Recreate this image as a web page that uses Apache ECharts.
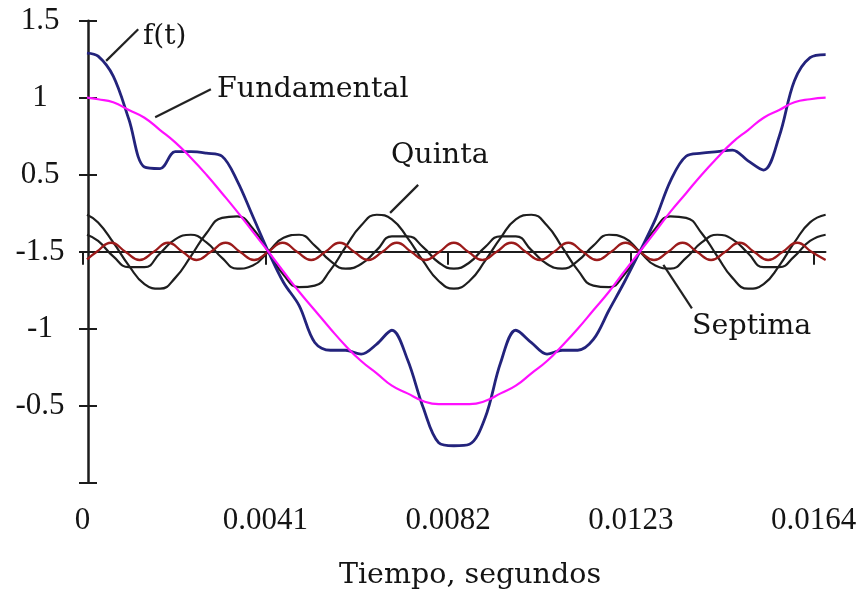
<!DOCTYPE html>
<html>
<head>
<meta charset="utf-8">
<script src="https://cdn.jsdelivr.net/npm/echarts/dist/echarts.min.js"></script>
<style>
  html, body { margin: 0; padding: 0; background: #ffffff; }
  #grafica { width: 863px; height: 596px; }
</style>
</head>
<body>
<div id="grafica"></div>
<script>
// Tiempo (s) de las muestras de la onda y de sus armónicos fundamental, quinto y séptimo
const tiempo = [
  0.0001, 0.00035, 0.00069, 0.00104, 0.00139, 0.00174, 0.00208, 0.00243, 0.00278, 0.00313,
  0.00347, 0.00382, 0.00417, 0.00451, 0.00486, 0.00521, 0.00556, 0.00590, 0.00625, 0.00660,
  0.00694, 0.00729, 0.00764, 0.00799, 0.00833, 0.00868, 0.00903, 0.00938, 0.00972, 0.01007,
  0.01042, 0.01076, 0.01111, 0.01146, 0.01181, 0.01215, 0.01250, 0.01285, 0.01319, 0.01354,
  0.01389, 0.01424, 0.01458, 0.01493, 0.01528, 0.01563, 0.01597, 0.01632, 0.01667
];

// Onda completa f(t)
const ondaFt = [
  1.29, 1.27, 1.14, 0.86, 0.55, 0.54, 0.65, 0.65, 0.64, 0.62,
  0.46, 0.23, 0.00, -0.20, -0.35, -0.59, -0.64, -0.64, -0.665, -0.60,
  -0.51, -0.70, -1.01, -1.24, -1.26, -1.25, -1.08, -0.72, -0.51, -0.59,
  -0.665, -0.64, -0.64, -0.57, -0.38, -0.20, 0.00, 0.21, 0.46, 0.62,
  0.64, 0.65, 0.66, 0.59, 0.53, 0.75, 1.11, 1.26, 1.28
];

// Componente fundamental
const fundamental = [
  1.00, 0.99, 0.97, 0.92, 0.87, 0.79, 0.71, 0.61, 0.50, 0.38,
  0.26, 0.13, 0.00, -0.13, -0.26, -0.38, -0.50, -0.61, -0.71, -0.79,
  -0.87, -0.92, -0.97, -0.99, -0.99, -0.99, -0.97, -0.92, -0.87, -0.79,
  -0.71, -0.61, -0.50, -0.38, -0.26, -0.13, 0.00, 0.13, 0.26, 0.38,
  0.50, 0.61, 0.71, 0.79, 0.87, 0.92, 0.97, 0.99, 1.00
];

// Quinto armónico
const quinta = [
  0.24, 0.19, 0.06, -0.09, -0.21, -0.24, -0.17, -0.03, 0.12, 0.22,
  0.23, 0.15, 0.00, -0.15, -0.23, -0.22, -0.12, 0.03, 0.17, 0.24,
  0.21, 0.09, -0.06, -0.19, -0.24, -0.19, -0.06, 0.09, 0.21, 0.24,
  0.17, 0.03, -0.12, -0.22, -0.23, -0.15, 0.00, 0.15, 0.23, 0.22,
  0.12, -0.03, -0.17, -0.24, -0.21, -0.09, 0.06, 0.19, 0.24
];

// Séptimo armónico
const septima = [
  0.11, 0.07, -0.03, -0.10, -0.10, -0.01, 0.08, 0.11, 0.06, -0.04,
  -0.11, -0.09, 0.00, 0.09, 0.11, 0.04, -0.06, -0.11, -0.08, 0.01,
  0.10, 0.10, 0.03, -0.07, -0.11, -0.07, 0.03, 0.10, 0.10, 0.01,
  -0.08, -0.11, -0.06, 0.04, 0.11, 0.09, 0.00, -0.09, -0.11, -0.04,
  0.06, 0.11, 0.08, -0.01, -0.10, -0.10, -0.03, 0.07, 0.11
];

// Muestras más finas para el armónico de orden 13
const tiempo13 = [
  0.0001, 0.00032, 0.00064, 0.00096, 0.00128, 0.00160, 0.00192, 0.00224, 0.00256, 0.00288,
  0.00321, 0.00353, 0.00385, 0.00417, 0.00449, 0.00481, 0.00513, 0.00545, 0.00577, 0.00609,
  0.00641, 0.00673, 0.00705, 0.00737, 0.00769, 0.00801, 0.00833, 0.00865, 0.00897, 0.00929,
  0.00962, 0.00994, 0.01026, 0.01058, 0.01090, 0.01122, 0.01154, 0.01186, 0.01218, 0.01250,
  0.01282, 0.01314, 0.01346, 0.01378, 0.01410, 0.01442, 0.01474, 0.01506, 0.01538, 0.01571,
  0.01603, 0.01635, 0.01667
];
const armonico13 = [
  -0.05, 0, 0.058, 0, -0.054, 0, 0.058, 0, -0.054, 0,
  0.058, 0, -0.054, 0, 0.058, 0, -0.054, 0, 0.058, 0,
  -0.054, 0, 0.058, 0, -0.054, 0, 0.058, 0, -0.054, 0,
  0.058, 0, -0.054, 0, 0.058, 0, -0.054, 0, 0.058, 0,
  -0.054, 0, 0.058, 0, -0.054, 0, 0.058, 0, -0.054, 0,
  0.058, 0, -0.054
];

// Marcas y rótulos de los ejes
const tFinal = 0.016667;
const marcasX = [0, 0.0041, 0.0082, 0.0123, 0.0164];
const rotulosX = ['0', '0.0041', '0.0082', '0.0123', '0.0164'];
const marcasY = [-1.5, -1, -0.5, 0, 0.5, 1, 1.5];
const rotulosY = ['', '-0.5', '-1', '-1.5', '0.5', '1', '1.5'];

// Líneas guía de los rótulos: [desde, hasta] en coordenadas (t, valor)
const guias = [
  [[0.00125, 1.445], [0.00053, 1.239]],
  [[0.00288, 1.055], [0.00163, 0.873]],
  [[0.00753, 0.434], [0.00690, 0.252]],
  [[0.01303, -0.086], [0.01367, -0.368]]
];

const pares = (ts, vs) => ts.map((t, i) => [t, vs[i]]);
const rotulo = (marcas, rotulos) => (v) => {
  const i = marcas.findIndex(m => Math.abs(m - v) < 1e-9);
  return i >= 0 ? rotulos[i] : '';
};

const tinta = '#1c1c1c';
const fuenteNum = 'Liberation Serif';
const fuenteTxt = '"DejaVu Serif"';

const chart = echarts.init(document.getElementById('grafica'), null, { renderer: 'canvas' });

const linea = (nombre, datos, color, ancho, suave) => ({
  name: nombre,
  type: 'line',
  xAxisIndex: 0,
  yAxisIndex: 0,
  data: datos,
  showSymbol: false,
  symbol: 'none',
  smooth: suave,
  lineStyle: { color: color, width: ancho },
  silent: true
});

chart.setOption({
  animation: false,
  backgroundColor: '#ffffff',
  grid: { left: 82.5, width: 743, top: 20.7, height: 462 },
  xAxis: [
    {
      type: 'value', min: 0, max: tFinal, position: 'bottom',
      axisLine: { onZero: true, lineStyle: { color: tinta, width: 2 } },
      axisTick: { show: true, customValues: marcasX, length: 13, lineStyle: { color: tinta, width: 2 } },
      axisLabel: { show: false },
      splitLine: { show: false }
    },
    {
      type: 'value', min: 0, max: tFinal, position: 'bottom',
      axisLine: { show: false, onZero: false },
      axisTick: { show: false },
      axisLabel: {
        customValues: marcasX, formatter: rotulo(marcasX, rotulosX),
        margin: 23, fontFamily: fuenteNum, fontSize: 31, color: '#141414'
      },
      splitLine: { show: false }
    }
  ],
  yAxis: [
    {
      type: 'value', min: -1.5, max: 1.5, interval: 0.5, position: 'left', offset: -5.5,
      axisLine: { show: true, lineStyle: { color: tinta, width: 2.5 } },
      axisTick: { show: true, inside: false, length: 9, lineStyle: { color: tinta, width: 2 } },
      axisLabel: {
        formatter: rotulo(marcasY, rotulosY), margin: 48, align: 'center',
        fontFamily: fuenteNum, fontSize: 31, color: '#141414'
      },
      splitLine: { show: false }
    },
    {
      type: 'value', min: -1.5, max: 1.5, interval: 0.5, position: 'left', offset: -5.5,
      axisLine: { show: false },
      axisTick: { show: true, inside: true, length: 9, lineStyle: { color: tinta, width: 2 } },
      axisLabel: { show: false },
      splitLine: { show: false }
    }
  ],
  series: [
    linea('Quinta', pares(tiempo, quinta), '#1e1e1e', 2.2, 0.5),
    linea('Septima', pares(tiempo, septima), '#1e1e1e', 2.2, 0.5),
    linea('Armónico 13', pares(tiempo13, armonico13), '#9b1b1b', 2.3, 0.5),
    linea('f(t)', pares(tiempo, ondaFt), '#23237c', 2.8, 0.35),
    linea('Fundamental', pares(tiempo, fundamental), '#ff10ff', 2.2, 0.5),
    {
      type: 'lines',
      coordinateSystem: 'cartesian2d',
      xAxisIndex: 0,
      yAxisIndex: 0,
      silent: true,
      symbol: 'none',
      lineStyle: { color: '#222222', width: 2.2, opacity: 1, curveness: 0 },
      data: guias.map(g => ({ coords: g }))
    }
  ],
  graphic: [
    { type: 'text', x: 143, y: 37, style: { text: 'f(t)', font: '28px ' + fuenteTxt, fill: '#141414', align: 'left', verticalAlign: 'middle' } },
    { type: 'text', x: 217, y: 89.5, style: { text: 'Fundamental', font: '28.5px ' + fuenteTxt, fill: '#141414', align: 'left', verticalAlign: 'middle' } },
    { type: 'text', x: 391, y: 156, style: { text: 'Quinta', font: '28.5px ' + fuenteTxt, fill: '#141414', align: 'left', verticalAlign: 'middle' } },
    { type: 'text', x: 692, y: 327, style: { text: 'Septima', font: '28.5px ' + fuenteTxt, fill: '#141414', align: 'left', verticalAlign: 'middle' } },
    { type: 'text', x: 470, y: 576, style: { text: 'Tiempo, segundos', font: '28.5px ' + fuenteTxt, fill: '#141414', align: 'center', verticalAlign: 'middle' } }
  ]
});
</script>
</body>
</html>
